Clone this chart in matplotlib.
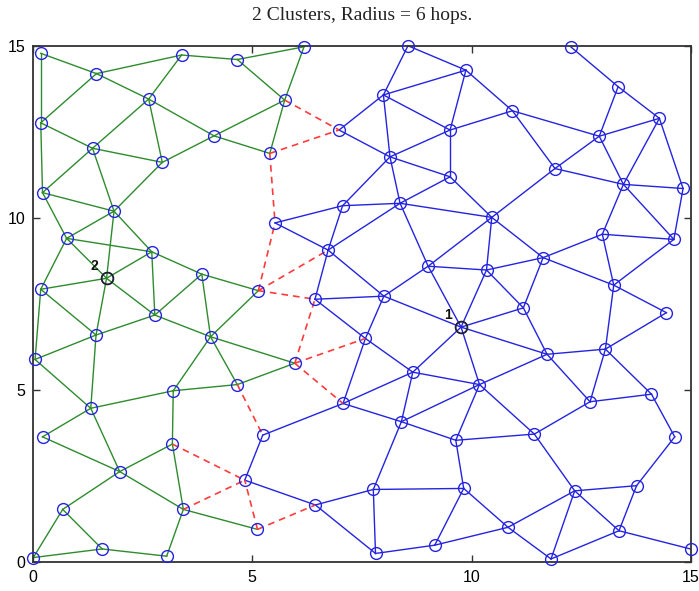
import matplotlib
matplotlib.use("Agg")
import matplotlib.pyplot as plt

# Node coordinates of the two clusters
green_x = [0.18, 1.45, 3.39, 4.66, 6.18, 2.64, 5.74, 0.18, 4.13, 1.36,
           2.95, 5.40, 0.22, 1.85, 0.77, 2.71, 1.68, 3.85, 0.18, 2.78,
           5.14, 1.44, 4.05, 0.05, 5.97, 3.20, 4.66, 1.32, 0.22, 3.18,
           1.98, 0.68, 3.43, 0.01, 1.58, 3.05, 5.12]
green_y = [14.79, 14.20, 14.74, 14.61, 14.98, 13.46, 13.43, 12.77, 12.39, 12.03,
           11.62, 11.88, 10.74, 10.20, 9.41, 9.02, 8.25, 8.37, 7.93, 7.18,
           7.89, 6.60, 6.55, 5.89, 5.78, 4.98, 5.16, 4.47, 3.64, 3.43,
           2.63, 1.53, 1.53, 0.13, 0.38, 0.17, 0.95]

blue_x = [6.98, 8.55, 7.99, 9.51, 8.14, 9.51, 7.06, 8.37, 5.52, 12.26,
          9.87, 13.34, 10.93, 14.28, 12.91, 11.90, 13.46, 14.82, 10.46, 6.73,
          9.01, 12.98, 14.61, 11.63, 10.34, 13.24, 11.18, 14.44, 9.76, 6.43,
          8.00, 7.58, 8.66, 11.72, 13.05, 10.18, 7.07, 8.40, 9.64, 11.43,
          12.70, 14.10, 14.63, 5.24, 4.83, 6.44, 7.76, 9.82, 12.35, 13.76,
          7.81, 9.16, 10.83, 13.36, 14.99, 11.81]
blue_y = [12.56, 15.01, 13.58, 12.56, 11.78, 11.20, 10.36, 10.43, 9.86, 14.98,
          14.30, 13.82, 13.12, 12.90, 12.38, 11.44, 10.98, 10.86, 10.02, 9.07,
          8.60, 9.53, 9.38, 8.85, 8.49, 8.05, 7.39, 7.25, 6.83, 7.64,
          7.73, 6.50, 5.52, 6.04, 6.19, 5.16, 4.61, 4.08, 3.54, 3.72,
          4.66, 4.88, 3.64, 3.69, 2.38, 1.66, 2.11, 2.14, 2.07, 2.22,
          0.25, 0.49, 1.01, 0.91, 0.38, 0.09]

# Links inside each cluster (index pairs)
green_links = [(0, 1), (0, 7), (1, 2), (1, 5), (1, 7), (2, 3), (2, 5), (5, 8), (5, 9),
               (5, 10), (7, 9), (7, 12), (9, 10), (9, 12), (9, 13), (10, 8), (12, 13),
               (8, 6), (8, 11), (3, 6), (3, 4), (4, 6), (6, 11), (12, 14), (13, 14),
               (13, 15), (13, 16), (13, 10), (14, 16), (14, 15), (14, 18), (15, 16),
               (15, 17), (15, 19), (16, 18), (16, 19), (16, 21), (17, 19), (17, 22),
               (17, 20), (18, 21), (18, 23), (19, 21), (19, 22), (21, 23), (21, 27),
               (22, 26), (22, 25), (22, 24), (22, 20), (23, 27), (27, 25), (27, 28),
               (27, 30), (25, 26), (25, 29), (26, 24), (28, 30), (29, 30), (29, 32),
               (30, 31), (30, 32), (31, 33), (31, 34), (33, 34), (34, 35), (32, 35),
               (32, 36)]

blue_links = [(1, 2), (2, 0), (2, 4), (2, 3), (2, 10), (0, 4), (4, 3), (4, 5), (4, 6),
              (4, 7), (3, 5), (6, 7), (6, 8), (7, 5), (1, 10), (10, 3), (10, 12),
              (9, 11), (11, 13), (11, 14), (12, 3), (12, 14), (12, 15), (13, 14),
              (13, 16), (13, 17), (14, 15), (14, 16), (15, 16), (15, 18), (16, 17),
              (5, 18), (7, 18), (16, 21), (16, 22), (17, 22), (18, 24), (18, 23),
              (18, 20), (21, 23), (21, 22), (21, 25), (22, 25), (23, 24), (23, 25),
              (23, 26), (24, 26), (20, 24), (24, 28), (25, 27), (25, 34), (26, 28),
              (26, 33), (27, 34), (28, 33), (28, 35), (33, 34), (33, 35), (33, 40),
              (34, 40), (34, 41), (35, 38), (35, 39), (35, 32), (35, 37), (38, 39),
              (38, 47), (37, 38), (39, 40), (39, 48), (40, 41), (41, 42), (42, 49),
              (48, 49), (48, 53), (48, 52), (48, 55), (49, 53), (53, 54), (53, 55),
              (47, 52), (47, 46), (47, 51), (52, 55), (51, 52), (36, 43), (36, 37),
              (36, 32), (36, 31), (43, 44), (44, 45), (45, 46), (45, 50), (46, 50),
              (50, 51), (37, 46), (32, 37), (8, 19), (19, 6), (19, 7), (19, 29),
              (19, 30), (29, 30), (29, 31), (30, 20), (30, 31), (30, 28),
              (20, 7), (20, 28), (31, 32), (32, 28)]

# Links between the clusters: (green index, blue index)
cross_links = [(6, 0), (11, 0), (11, 8), (20, 8), (20, 19), (20, 29), (24, 29),
               (24, 31), (24, 36), (26, 43), (29, 44), (32, 44), (36, 44), (36, 45)]

# Cluster heads
head_labels = ["1", "2"]
head_x = [blue_x[28], green_x[16]]
head_y = [blue_y[28], green_y[16]]

GREEN = "#2e8b2e"
BLUE = "#2424e0"
RED = "#ff3b3b"

fig = plt.figure(figsize=(6.99, 5.91), dpi=100)
ax = fig.add_axes([0.047, 0.049, 0.9415, 0.873])

for i, j in green_links:
    ax.plot([green_x[i], green_x[j]], [green_y[i], green_y[j]], color=GREEN,
            lw=1.0, clip_on=False, zorder=2)
for i, j in blue_links:
    ax.plot([blue_x[i], blue_x[j]], [blue_y[i], blue_y[j]], color=BLUE,
            lw=1.0, clip_on=False, zorder=2)
for g, b in cross_links:
    ax.plot([green_x[g], blue_x[b]], [green_y[g], blue_y[b]], color=RED,
            lw=1.2, ls=(0, (4, 3)), clip_on=False, zorder=2)

ax.plot(green_x, green_y, "o", mfc="none", mec=BLUE, ms=8.5, mew=1.0,
        clip_on=False, zorder=3)
ax.plot(blue_x, blue_y, "o", mfc="none", mec=BLUE, ms=8.5, mew=1.0,
        clip_on=False, zorder=3)
ax.plot(head_x, head_y, "o", mfc="none", mec="#222222", ms=8.5, mew=1.2,
        clip_on=False, zorder=4)
for lab, hx, hy in zip(head_labels, head_x, head_y):
    ax.text(hx - 0.2, hy + 0.15, lab, fontsize=10, fontweight="bold",
            family="Liberation Sans", color="#111111", ha="right", va="bottom",
            zorder=5)

ax.set_xlim(0, 15)
ax.set_ylim(0, 15)
ax.set_xticks([0, 5, 10, 15])
ax.set_yticks([0, 5, 10, 15])
ax.tick_params(direction="in", length=5, width=1.0, color="#333333",
               top=True, right=True, labelsize=11.5)
ax.tick_params(axis="x", pad=6)
ax.tick_params(axis="y", pad=5.5)
for lab in ax.get_xticklabels() + ax.get_yticklabels():
    lab.set_family("Liberation Sans")
for s in ax.spines.values():
    s.set_color("#333333")
    s.set_linewidth(1.3)

ax.set_title("2 Clusters, Radius = 6 hops.", family="Liberation Serif",
             fontsize=14, color="#222222", pad=19)

fig.savefig("out.png", dpi=100)
